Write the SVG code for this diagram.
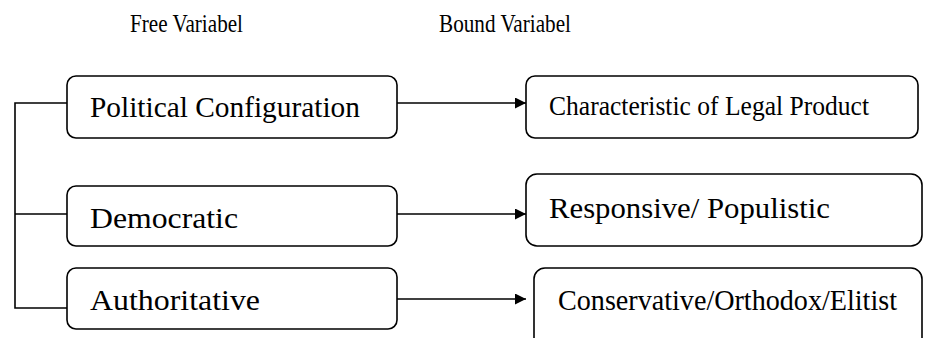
<svg xmlns="http://www.w3.org/2000/svg" width="943" height="338" viewBox="0 0 943 338">
<style>
.box{fill:#fff;stroke:#000;stroke-width:1.6}
.ln{fill:none;stroke:#000;stroke-width:1.6}
.t{font-family:"Liberation Serif","Times New Roman",serif;fill:#000}
</style>
<defs>
<marker id="ah" viewBox="0 0 10 10" refX="10" refY="5" markerWidth="15" markerHeight="11" markerUnits="userSpaceOnUse" orient="auto">
<path d="M0,0 L10,5 L0,10 Z" fill="#000"/>
</marker>
</defs>
<rect width="943" height="338" fill="#fff"/>
<g id="headers">
<text class="t" x="130" y="32" font-size="26" textLength="113" lengthAdjust="spacingAndGlyphs">Free Variabel</text>
<text class="t" x="439" y="32" font-size="26" textLength="132" lengthAdjust="spacingAndGlyphs">Bound Variabel</text>
</g>
<g id="connectors">
<path class="ln" d="M67,103 H15 V308 H67 M15,214 H67"/>
<line class="ln" x1="397" y1="103" x2="526" y2="103" marker-end="url(#ah)"/>
<line class="ln" x1="397" y1="214" x2="526" y2="214" marker-end="url(#ah)"/>
<line class="ln" x1="397" y1="299" x2="526" y2="299" marker-end="url(#ah)"/>
</g>
<g id="political-configuration">
<rect class="box" x="67" y="76" width="330" height="62" rx="9"/>
<text class="t" x="90" y="117" font-size="30" textLength="270" lengthAdjust="spacingAndGlyphs">Political Configuration</text>
</g>
<g id="democratic">
<rect class="box" x="67" y="186" width="330" height="60" rx="9"/>
<text class="t" x="90" y="228" font-size="30" textLength="148" lengthAdjust="spacingAndGlyphs">Democratic</text>
</g>
<g id="authoritative">
<rect class="box" x="67" y="268" width="330" height="61" rx="9"/>
<text class="t" x="90" y="310" font-size="30" textLength="170" lengthAdjust="spacingAndGlyphs">Authoritative</text>
</g>
<g id="characteristic">
<rect class="box" x="526" y="76" width="392" height="62" rx="9"/>
<text class="t" x="549" y="115" font-size="28" textLength="320" lengthAdjust="spacingAndGlyphs">Characteristic of Legal Product</text>
</g>
<g id="responsive">
<rect class="box" x="526" y="174" width="396" height="72" rx="11"/>
<text class="t" x="549" y="218" font-size="30" textLength="281" lengthAdjust="spacingAndGlyphs">Responsive/ Populistic</text>
</g>
<g id="conservative">
<rect class="box" x="534" y="268" width="388" height="90" rx="11"/>
<text class="t" x="558" y="310" font-size="29" textLength="339" lengthAdjust="spacingAndGlyphs">Conservative/Orthodox/Elitist</text>
</g>
</svg>
